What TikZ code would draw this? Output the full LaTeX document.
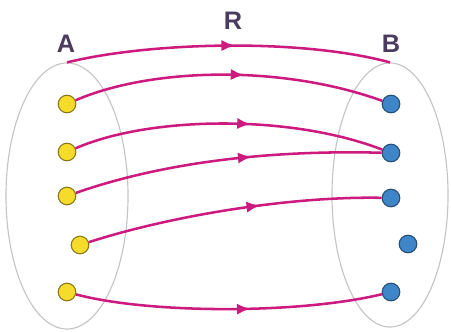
\documentclass[tikz,border=0pt]{standalone}
\usepackage{fontspec}
\setmainfont{Liberation Sans}
\usepackage{xcolor}
\usepackage{tikz}
\usetikzlibrary{arrows.meta,shapes.geometric,decorations.markings}
\definecolor{RelMagenta}{HTML}{CC1A7E}
\definecolor{SetGray}{HTML}{C4C4C4}
\definecolor{DotYellow}{HTML}{F6DC2A}
\definecolor{DotYellowRim}{HTML}{8C7A1E}
\definecolor{DotBlue}{HTML}{3F86C8}
\definecolor{DotBlueRim}{HTML}{28507A}
\definecolor{LabelInk}{HTML}{4B3B5E}
\tikzset{
  setshape/.style={ellipse, draw=SetGray, thick, inner sep=0pt},
  domaindot/.style={circle, draw=DotYellowRim, thick, fill=DotYellow,
    inner sep=0pt, minimum size=4.4mm},
  codomaindot/.style={circle, draw=DotBlueRim, thick, fill=DotBlue,
    inner sep=0pt, minimum size=4.4mm},
  setlabel/.style={text=LabelInk, font=\fontsize{18}{20}\selectfont\bfseries, inner sep=0pt},
  pairing/.style={draw=RelMagenta, line width=1.8pt, postaction={decorate},
    decoration={markings, mark=at position #1 with
      {\arrow{Latex[length=3.4mm, width=2.8mm]}}}},
  pairing/.default=0.55
}
\begin{document}
\begin{tikzpicture}[x=0.025cm, y=-0.025cm]
  \useasboundingbox (0,0) rectangle (451,331);
  % the two sets
  \node[setshape, minimum width=3.05cm, minimum height=6.65cm] (setA) at (67,196) {};
  \node[setshape, minimum width=2.9cm, minimum height=6.6cm] (setB) at (390,195) {};
  \node[setlabel] (labelA) at (66,44) {A};
  \node[setlabel] (labelB) at (391,44) {B};
  \node[setlabel] (labelR) at (233,21) {R};
  % elements
  \node[domaindot] (a1) at (67,104) {};
  \node[domaindot] (a2) at (67,152) {};
  \node[domaindot] (a3) at (67,196) {};
  \node[domaindot] (a4) at (80,245) {};
  \node[domaindot] (a5) at (67,292) {};
  \node[codomaindot] (b1) at (391,104) {};
  \node[codomaindot] (b2) at (391,153) {};
  \node[codomaindot] (b3) at (391,198) {};
  \node[codomaindot] (b4) at (408,244) {};
  \node[codomaindot] (b5) at (391,292) {};
  % relation
  \draw[pairing=0.52] (setA.north) .. controls (150,42) and (300,38) .. (setB.north);
  \draw[pairing=0.55] (a1) .. controls (150,68) and (280,64) .. (b1);
  \draw[pairing=0.57] (a2) .. controls (150,116) and (290,114) .. (b2);
  \draw[pairing=0.58] (a3) .. controls (170,160) and (280,150) .. (b2);
  \draw[pairing=0.59] (a4) .. controls (170,216) and (290,196) .. (b3);
  \draw[pairing=0.57] (a5) .. controls (150,314) and (300,314) .. (b5);
\end{tikzpicture}
\end{document}
